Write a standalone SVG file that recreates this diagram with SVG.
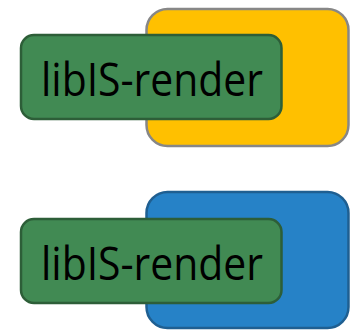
<svg xmlns="http://www.w3.org/2000/svg" width="354" height="331" viewBox="0 0 354 331">
  <style>
    .back-yellow { fill: #ffc000; stroke: #878787; stroke-width: 2.5; }
    .back-blue { fill: #2682c7; stroke: #1f5f91; stroke-width: 2.5; }
    .lib { fill: #418a53; stroke: #2d5e38; stroke-width: 2.5; }
    .label { font-family: "Open Sans", "Noto Sans", sans-serif; font-size: 46px; fill: #000; }
  </style>
  <rect width="354" height="331" fill="#ffffff"/>

  <!-- top pair: library block over yellow backend -->
  <g id="backend-yellow">
    <rect class="back-yellow" x="146.5" y="9" width="202" height="137" rx="21"/>
  </g>
  <g id="lib-top">
    <rect class="lib" x="21" y="35" width="260.5" height="84" rx="13"/>
    <text class="label" x="41" y="95.5" textLength="222" lengthAdjust="spacingAndGlyphs">libIS-render</text>
  </g>

  <!-- bottom pair: library block over blue backend -->
  <g id="backend-blue">
    <rect class="back-blue" x="146.5" y="192" width="202" height="136" rx="21"/>
  </g>
  <g id="lib-bottom">
    <rect class="lib" x="21" y="219" width="260.5" height="84" rx="13"/>
    <text class="label" x="41" y="279.5" textLength="222" lengthAdjust="spacingAndGlyphs">libIS-render</text>
  </g>

  <g id="connectors"/>
</svg>
